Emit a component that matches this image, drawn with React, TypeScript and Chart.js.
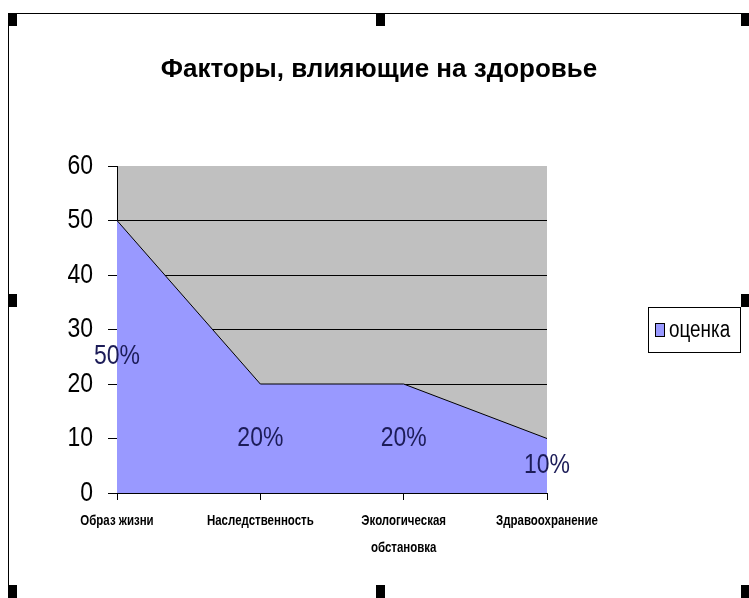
import React, { useEffect, useRef } from "react";
import { Chart, registerables } from "chart.js";

Chart.register(...registerables);

const chartTitle = "Факторы, влияющие на здоровье";
const categories: (string | string[])[] = [
  "Образ жизни",
  "Наследственность",
  ["Экологическая", "обстановка"],
  "Здравоохранение",
];
const seriesName = "оценка";
const values = [50, 20, 20, 10];
const valueLabels = ["50%", "20%", "20%", "10%"];
const yMin = 0;
const yMax = 60;
const yStep = 10;

const SANS = '"Liberation Sans", Arial, sans-serif';
const AREA = "#9999FF";
const PLOT_BG = "#C0C0C0";
const NARROW_X = 0.82;

let condense = NARROW_X;

const decorPlugin = {
  id: "decor",
  beforeDraw(chart: any) {
    const { ctx, chartArea } = chart;
    if (!ctx.__narrowed) {
      const orig = ctx.fillText;
      ctx.fillText = function (t: string, x: number, y: number, m?: number) {
        if (condense === 1) {
          return m === undefined ? orig.call(this, t, x, y) : orig.call(this, t, x, y, m);
        }
        this.save();
        this.translate(x, y);
        this.scale(condense, 1);
        orig.call(this, t, 0, 0);
        this.restore();
      };
      ctx.__narrowed = true;
    }
    condense = NARROW_X;
    ctx.save();
    ctx.fillStyle = "#ffffff";
    ctx.fillRect(0, 0, chart.width, chart.height);
    ctx.fillStyle = PLOT_BG;
    ctx.fillRect(chartArea.left, chartArea.top, chartArea.right - chartArea.left, chartArea.bottom - chartArea.top);
    ctx.restore();
  },
  afterDatasetsDraw(chart: any) {
    const { ctx } = chart;
    const xs = chart.scales.x;
    const ys = chart.scales.y;
    ctx.save();
    ctx.font = `28px ${SANS}`;
    ctx.fillStyle = "#1c1c58";
    ctx.textAlign = "center";
    ctx.textBaseline = "middle";
    values.forEach((v, i) => {
      ctx.fillText(valueLabels[i], xs.getPixelForValue(i), ys.getPixelForValue(v / 2));
    });
    ctx.restore();
  },
  afterDraw(chart: any) {
    const { ctx } = chart;
    ctx.save();
    // legend
    ctx.strokeStyle = "#000";
    ctx.lineWidth = 1;
    ctx.strokeRect(648.5, 307.5, 92, 45);
    ctx.fillStyle = AREA;
    ctx.fillRect(655, 323, 10, 14);
    ctx.strokeRect(655.5, 323.5, 9, 13);
    ctx.fillStyle = "#000";
    ctx.font = `23px ${SANS}`;
    ctx.textAlign = "left";
    ctx.textBaseline = "middle";
    ctx.fillText(seriesName, 669, 331);
    // title (normal width)
    condense = 1;
    ctx.font = `bold 26px ${SANS}`;
    ctx.textAlign = "center";
    ctx.textBaseline = "alphabetic";
    ctx.fillText(chartTitle, 379, 77);
    condense = NARROW_X;
    // frame
    ctx.beginPath();
    ctx.moveTo(8, 13.5);
    ctx.lineTo(745, 13.5);
    ctx.moveTo(8.5, 13);
    ctx.lineTo(8.5, 598);
    ctx.stroke();
    const handles = [
      [8, 13], [376, 13], [741, 13],
      [8, 294], [741, 294],
      [8, 585], [376, 585], [741, 585],
    ];
    ctx.fillStyle = "#000";
    handles.forEach(([hx, hy]) => ctx.fillRect(hx, hy, 9, 13));
    ctx.restore();
  },
};

export default function App() {
  const ref = useRef<HTMLCanvasElement | null>(null);
  useEffect(() => {
    if (!ref.current) return;
    const chart = new Chart(ref.current, {
      type: "line",
      data: {
        labels: categories as any,
        datasets: [
          {
            label: seriesName,
            data: values,
            fill: "origin",
            backgroundColor: AREA,
            borderColor: "#000",
            borderWidth: 1,
            pointRadius: 0,
            tension: 0,
          },
        ],
      },
      options: {
        animation: false,
        responsive: true,
        maintainAspectRatio: false,
        layout: { padding: { left: 0, right: 202, top: 166, bottom: 0 } },
        plugins: {
          legend: { display: false },
          title: { display: false },
          tooltip: { enabled: false },
        },
        scales: {
          x: {
            offset: false,
            grid: {
              drawOnChartArea: false,
              drawTicks: true,
              tickLength: 7,
              tickColor: "#000",
            },
            border: { display: true, color: "#000", width: 1 },
            ticks: {
              color: "#000",
              padding: 7,
              maxRotation: 0,
              autoSkip: false,
              font: { family: SANS, size: 14, weight: "bold", lineHeight: 1.95 },
            },
            afterFit(scale: any) {
              scale.height = 105;
            },
          },
          y: {
            min: yMin,
            max: yMax,
            grid: {
              color: (c: any) => (c.tick && c.tick.value === yMax ? "rgba(0,0,0,0)" : "#000"),
              lineWidth: 1,
              drawTicks: true,
              tickLength: 9,
              tickColor: "#000",
            },
            border: { display: true, color: "#000", width: 1 },
            ticks: {
              stepSize: yStep,
              color: "#000",
              padding: 15,
              font: { family: SANS, size: 28 },
            },
            afterFit(scale: any) {
              scale.width = 117;
            },
          },
        },
      },
      plugins: [decorPlugin],
    });
    return () => chart.destroy();
  }, []);
  return (
    <div style={{ position: "absolute", left: 0, top: 0, width: 749, height: 598, background: "#fff" }}>
      <canvas ref={ref} />
    </div>
  );
}
